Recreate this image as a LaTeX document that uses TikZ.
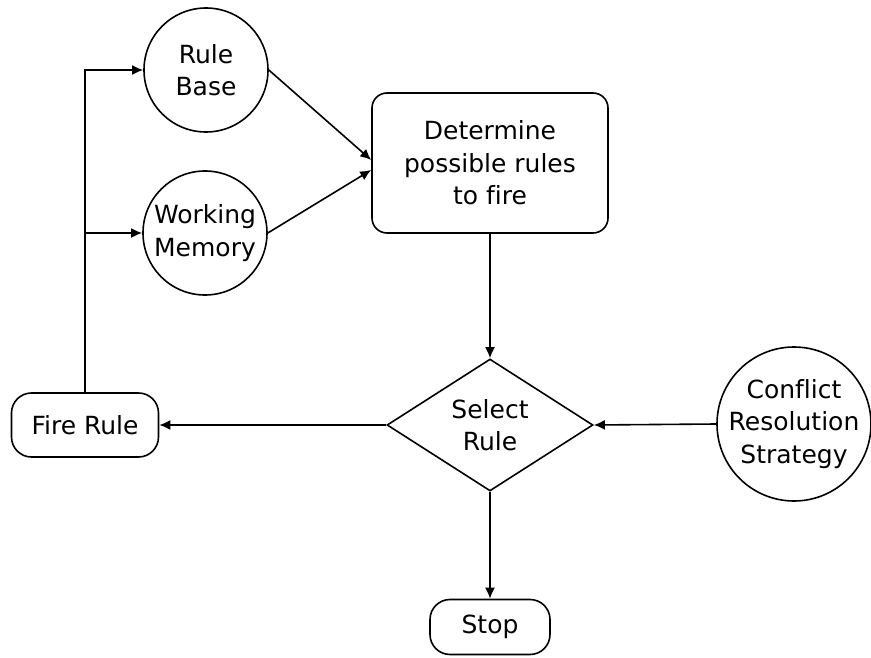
\documentclass[tikz,border=0pt]{standalone}
\usepackage{fontspec}
\setmainfont[Ligatures=NoCommon]{DejaVu Sans}
\usetikzlibrary{shapes.geometric,arrows.meta}
\begin{document}
\begin{tikzpicture}[x=1pt,y=-1pt,
  every node/.style={font=\fontsize{25}{32.5}\selectfont, align=center, line width=1.6pt, draw, inner sep=0pt},
  circ/.style={circle, inner sep=-8pt, minimum size=#1},
  rbox/.style={rectangle, rounded corners=#1},
  conn/.style={line width=1.6pt, -{Latex[length=11pt,width=10pt]}}
]
\useasboundingbox (0,0) rectangle (871,658);
\node[circ=124pt] (rb) at (206,70) {Rule\\Base};
\node[circ=124pt] (wm) at (205,233) {Working\\Memory};
\node[rbox=15pt, minimum width=236pt, minimum height=140pt] (det) at (490,163) {Determine\\possible rules\\to fire};
\node[diamond, minimum width=206pt, minimum height=132pt] (sel) at (490,425) {Select\\Rule};
\node[rbox=20pt, minimum width=147pt, minimum height=64pt] (fire) at (85,425) {Fire Rule};
\node[rbox=20pt, minimum width=120pt, minimum height=55pt] (stop) at (490,627) {Stop};
\node[circ=154pt] (crs) at (794,424) {Conflict\\Resolution\\Strategy};
\coordinate (j2) at (85,233);
\draw[conn] (rb.east) -- ([yshift=3pt]det.west);
\draw[conn] (wm.east) -- ([yshift=-7pt]det.west);
\draw[conn] (det.south) -- (sel.north);
\draw[conn] (sel.south) -- (stop.north);
\draw[conn] (sel.west) -- (fire.east);
\draw[conn] (crs.west) -- (sel.east);
\draw[conn] (fire.north) |- (rb.west);
\draw[conn] (j2) -- (wm.west);
\end{tikzpicture}
\end{document}
